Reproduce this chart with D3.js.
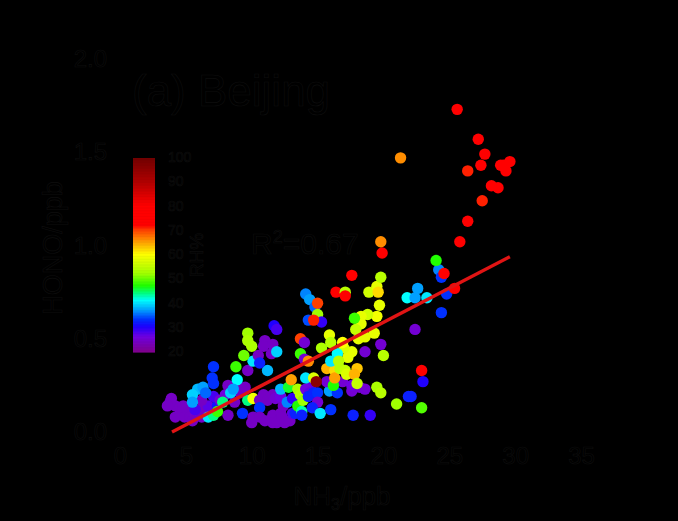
<!DOCTYPE html>
<html><head><meta charset="utf-8">
<script src="https://cdn.jsdelivr.net/npm/d3@7/dist/d3.min.js"></script>
<style>
html,body{margin:0;padding:0;background:#000;overflow:hidden}
text{font-family:"Liberation Sans",Arial,sans-serif;fill:#000;stroke:#0e0e0e;stroke-width:.6px}
</style></head><body><svg id="c" width="678" height="521"></svg>
<script>
const xTicks=[0,5,10,15,20,25,30,35];
const yTicks=[0,0.5,1,1.5,2];
const rhTicks=[100,90,80,70,60,50,40,30,20];
const rhStops=[100,90,80,72,70,65,60,52,47,44,41,37,33,30,26,20];
const rhColors=["#700000","#b00000","#ff0000","#ff0000","#ff4000","#ffa000","#ffff00","#a0ff00","#20ff00","#00ff80","#00ffff","#00a0ff","#0030ff","#2000ff","#7000e0","#800090"];
const fitX=[3.95,29.6];
const fitY=[0,0.94];
const nh3=[3.9,4.2,5.2,5.9,8.0,9.1,12.4,12.9,14.5,17.6,
3.8,3.6,4.8,4.6,4.2,4.9,5.3,5.7,5.5,6.2,
6.2,6.8,6.7,5.7,6.2,7.4,7.1,7.6,8.2,8.9,
9.5,8.7,8.2,6.7,7.1,7.4,7.8,5.9,5.5,6.3,
6.5,5.5,7.0,7.1,7.1,8.8,8.9,8.4,8.6,9.7,
11.2,10.1,10.5,10.6,9.4,9.7,9.7,10.0,11.0,10.9,
11.6,11.7,11.9,11.5,11.9,9.3,9.7,10.1,10.6,10.9,
11.2,11.6,11.8,12.2,12.2,10.6,10.0,10.1,10.6,11.0,
11.6,11.6,11.9,12.2,12.3,12.5,13.1,12.7,13.1,12.8,
13.0,13.3,13.5,13.8,13.5,13.7,13.9,14.1,14.4,14.3,
14.7,15.0,15.0,14.6,13.8,15.2,15.9,16.5,16.0,15.7,
16.9,16.2,14.1,14.7,14.9,15.7,16.3,16.3,16.7,17.1,
17.2,18.0,17.8,17.6,18.2,18.6,18.0,17.7,19.0,19.5,
19.8,21.0,22.9,21.9,22.1,23.0,22.9,20.0,19.8,18.6,
18.1,17.6,17.3,17.0,16.9,16.5,16.0,16.6,15.9,16.0,
15.3,13.7,14.0,14.3,13.7,14.0,14.1,14.4,14.8,15.0,
15.0,14.3,15.3,14.7,16.4,17.1,17.1,17.6,18.9,19.5,
19.6,19.8,19.7,19.5,18.8,18.3,18.3,17.9,17.8,19.3,
18.6,19.9,19.8,21.3,21.8,22.4,22.6,23.3,22.4,24.4,
24.8,24.2,24.4,24.0,24.6,25.4,25.8,26.4,27.5,28.2,
28.7,26.4,27.4,27.7,27.2,25.6,28.9,29.6,29.1,29.3];
const hono=[.18,.14,.12,.10,.20,.21,.14,.06,.25,.22,
.16,.14,.14,.11,.08,.08,.08,.08,.06,.08,
.12,.13,.14,.12,.17,.14,.19,.17,.25,.25,
.24,.16,.09,.08,.09,.11,.16,.23,.20,.24,
.21,.16,.29,.26,.35,.35,.28,.21,.23,.33,
.33,.38,.41,.37,.41,.53,.49,.46,.49,.46,
.47,.57,.55,.42,.43,.10,.17,.18,.17,.20,
.17,.20,.18,.19,.23,.13,.05,.08,.08,.06,
.09,.05,.05,.10,.08,.05,.10,.16,.18,.24,
.28,.10,.14,.11,.23,.20,.17,.23,.21,.19,
.21,.21,.16,.13,.09,.10,.22,.21,.12,.27,
.27,.25,.29,.29,.27,.34,.33,.29,.34,.33,
.31,.34,.31,.25,.24,.23,.26,.09,.09,.24,
.21,.15,.13,.19,.19,.27,.33,.41,.47,.43,
.50,.43,.40,.45,.48,.42,.38,.38,.52,.48,
.45,.42,.39,.38,.50,.48,.74,.71,.67,.69,
.63,.60,.59,.60,.75,.75,.73,.84,.75,.78,
.75,.83,.68,.62,.63,.62,.58,.55,.61,.53,
.51,.96,1.02,1.47,.72,.72,.77,.72,.55,.64,
.74,.87,.83,.92,.85,.77,1.02,1.13,1.24,1.32,
1.31,1.40,1.43,1.49,1.57,1.73,1.43,1.45,1.43,1.40];
const rh=[24,24,24,24,26,24,24,24,27,25,
24,24,24,24,24,24,24,25,24,24,
24,25,27,28,24,31,28,25,24,24,
24,24,24,40,44,48,44,38,39,37,
35,37,33,33,33,48,41,39,37,24,
38,40,24,32,50,52,53,53,24,24,
24,30,28,24,39,33,44,59,24,24,
24,24,25,26,38,33,24,24,24,24,
24,24,24,24,24,24,27,36,29,46,
65,32,47,43,53,54,52,26,27,32,
32,33,25,32,32,40,37,33,33,25,
25,47,40,57,96,64,62,65,54,55,
57,63,64,26,25,25,55,32,29,53,
54,52,49,32,32,30,74,54,25,25,
58,58,58,57,60,41,40,54,58,54,
53,48,25,66,70,25,36,37,35,70,
52,34,29,71,75,54,72,75,56,58,
62,54,58,59,56,58,58,55,48,58,
58,74,66,66,41,37,37,40,25,33,
33,36,33,47,74,74,72,72,71,74,
73,71,75,75,75,75,75,75,75,73];

const svg=d3.select("#c");
const x=d3.scaleLinear().domain([0,35]).range([120,581]);
const y=d3.scaleLinear().domain([0,2]).range([432,59]);
const color=d3.scaleLinear().domain(rhStops).range(rhColors).clamp(true);
const rhY=d3.scaleLinear().domain([100,20]).range([157,351]);

// axes
const ax=svg.append("g").attr("transform","translate(0,432)").call(d3.axisBottom(x).tickValues(xTicks).tickFormat(d3.format("d")).tickSize(8).tickPadding(7));
const ay=svg.append("g").attr("transform","translate(120,0)").call(d3.axisLeft(y).tickValues(yTicks).tickFormat(d3.format(".1f")).tickSize(8).tickPadding(5));
[ax,ay].forEach(g=>{g.selectAll("path,line").attr("stroke","#000");g.selectAll("text").style("font-size","24px")});

// points
svg.append("g").selectAll("circle").data(nh3).join("circle")
 .attr("cx",d=>x(d)).attr("cy",(d,i)=>y(hono[i])).attr("r",5.7)
 .attr("fill",(d,i)=>color(rh[i]));

// regression line
svg.append("line").attr("x1",x(fitX[0])).attr("y1",y(fitY[0])).attr("x2",x(fitX[1])).attr("y2",y(fitY[1]))
 .attr("stroke","#e01414").attr("stroke-width",3.4);

// colour bar
const barVals=d3.range(rhY.invert(158),rhY.invert(352),-0.25);
svg.append("g").selectAll("rect").data(barVals).join("rect")
 .attr("x",133).attr("width",22).attr("y",d=>rhY(d)).attr("height",1.2).attr("fill",d=>color(d));
svg.append("g").selectAll("text").data(rhTicks).join("text")
 .attr("x",168).attr("y",d=>rhY(d)).attr("dy","0.36em").style("font-size","14px").text(d=>d);
svg.append("text").attr("transform","translate(203,255) rotate(-90)").attr("text-anchor","middle").style("font-size","19px").text("RH%");

// labels
svg.append("text").attr("x",132).attr("y",106).style("font-size","44px").text("(a) Beijing");
const r2=svg.append("text").attr("x",251).attr("y",254).style("font-size","30px");
r2.append("tspan").text("R");
r2.append("tspan").attr("dy",-11).style("font-size","18px").text("2");
r2.append("tspan").attr("dy",11).text("=0.67");
const xl=svg.append("text").attr("x",342).attr("y",505).attr("text-anchor","middle").style("font-size","26px");
xl.append("tspan").text("NH");
xl.append("tspan").attr("dy",5).style("font-size","16px").text("3");
xl.append("tspan").attr("dy",-5).text("/ppb");
svg.append("text").attr("transform","translate(62,248) rotate(-90)").attr("text-anchor","middle").style("font-size","27px").text("HONO/ppb");
</script></body></html>
